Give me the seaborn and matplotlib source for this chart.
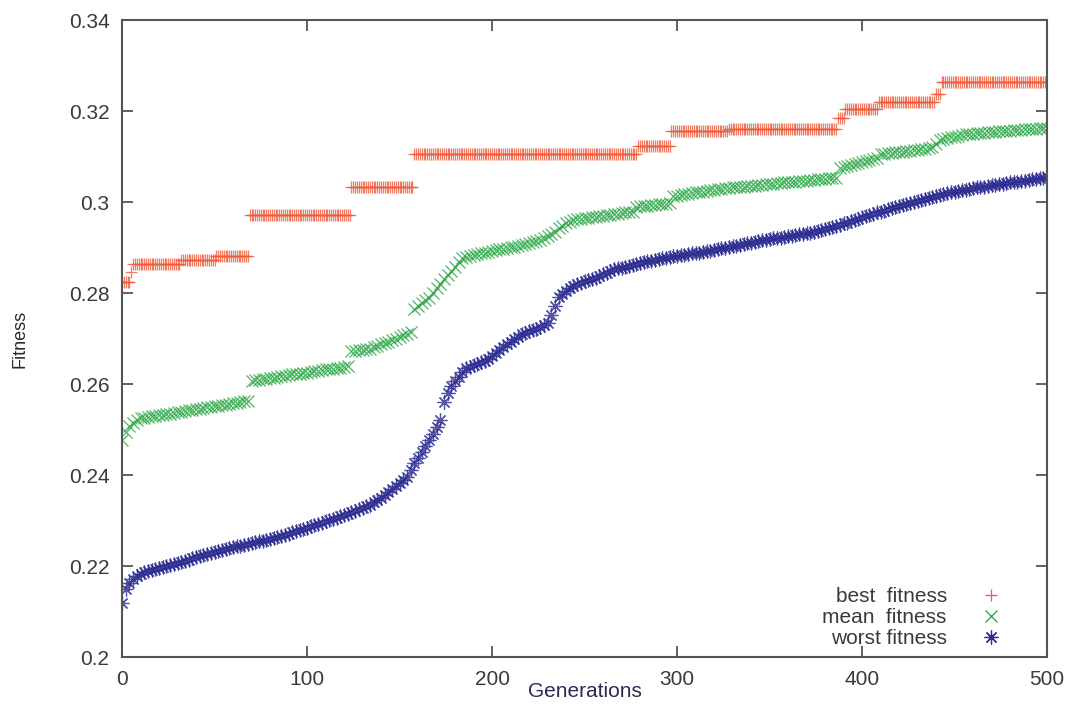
import numpy as np
import pandas as pd
import matplotlib
matplotlib.use("Agg")
import matplotlib.pyplot as plt
import seaborn as sns

# Best fitness is piecewise constant: (value, number of generations it holds)
best_levels = [0.2824, 0.2847, 0.2864, 0.2873, 0.2882, 0.2971, 0.3034, 0.3106,
               0.3123, 0.3156, 0.3160, 0.3185, 0.3204, 0.3220, 0.3237, 0.3264]
best_runs = [5, 1, 26, 19, 18, 55, 34, 121, 18, 31, 59, 4, 18, 31, 3, 58]

# Mean and worst fitness, recorded every second generation (0, 2, ..., 500)
mean_fitness = [
    0.2478, 0.2495, 0.2508, 0.2515, 0.2520, 0.2525,
    0.2526, 0.2528, 0.2529, 0.2530, 0.2532, 0.2533, 0.2534, 0.2535, 0.2537, 0.2538,
    0.2539, 0.2541, 0.2542, 0.2543, 0.2545, 0.2546, 0.2547, 0.2549, 0.2550, 0.2551,
    0.2552, 0.2554, 0.2555, 0.2556, 0.2558, 0.2559, 0.2560, 0.2562, 0.2563,
    0.2607, 0.2608, 0.2609, 0.2611, 0.2612, 0.2613, 0.2614, 0.2616, 0.2617, 0.2618,
    0.2619, 0.2621, 0.2622, 0.2623, 0.2624, 0.2625, 0.2627, 0.2628, 0.2629, 0.2630,
    0.2632, 0.2633, 0.2634, 0.2635, 0.2636, 0.2638, 0.2639,
    0.2672, 0.2673, 0.2674, 0.2675, 0.2677, 0.2678, 0.2681, 0.2684, 0.2687, 0.2690,
    0.2693, 0.2697, 0.2700, 0.2704, 0.2707, 0.2711, 0.2714,
    0.2765, 0.2771, 0.2777, 0.2784, 0.2790, 0.2800, 0.2810, 0.2820, 0.2830, 0.2840,
    0.2849, 0.2858, 0.2868, 0.2877, 0.2879, 0.2881, 0.2883, 0.2885, 0.2887, 0.2889,
    0.2890, 0.2892, 0.2894, 0.2896, 0.2897, 0.2899, 0.2901, 0.2902, 0.2904, 0.2906,
    0.2908, 0.2910, 0.2912, 0.2914, 0.2916, 0.2921, 0.2925, 0.2930, 0.2935, 0.2942,
    0.2948, 0.2955, 0.2957, 0.2960, 0.2962, 0.2963, 0.2964, 0.2965, 0.2966, 0.2968,
    0.2969, 0.2970, 0.2971, 0.2972, 0.2973, 0.2974, 0.2975, 0.2977, 0.2978, 0.2979,
    0.2990, 0.2991, 0.2992, 0.2992, 0.2993, 0.2994, 0.2995, 0.2995, 0.2996, 0.2997,
    0.3013, 0.3014, 0.3016, 0.3017, 0.3018, 0.3019, 0.3021, 0.3022, 0.3023, 0.3024,
    0.3026, 0.3027, 0.3028, 0.3029, 0.3030, 0.3031, 0.3032, 0.3033, 0.3033, 0.3034,
    0.3035, 0.3036, 0.3036, 0.3037, 0.3038, 0.3039, 0.3040, 0.3040, 0.3041, 0.3042,
    0.3043, 0.3043, 0.3044, 0.3045, 0.3046, 0.3047, 0.3047, 0.3048, 0.3049, 0.3050,
    0.3050, 0.3051, 0.3052, 0.3052, 0.3053,
    0.3075, 0.3077, 0.3079, 0.3081, 0.3084, 0.3086, 0.3088, 0.3090, 0.3092, 0.3095,
    0.3097,
    0.3105, 0.3106, 0.3107, 0.3108, 0.3109, 0.3110, 0.3111, 0.3112, 0.3113, 0.3114,
    0.3115, 0.3116, 0.3117, 0.3118, 0.3120,
    0.3127, 0.3136, 0.3139, 0.3141, 0.3142, 0.3144, 0.3146, 0.3147, 0.3149, 0.3150,
    0.3150, 0.3151, 0.3152, 0.3152, 0.3153, 0.3154, 0.3154, 0.3155, 0.3156, 0.3156,
    0.3157, 0.3158, 0.3158, 0.3159, 0.3160, 0.3160, 0.3161, 0.3161, 0.3162, 0.3162,
    0.3163,
]

worst_fitness = [
    0.2119, 0.2150, 0.2163, 0.2171, 0.2177, 0.2182, 0.2186, 0.2189, 0.2191, 0.2194,
    0.2196, 0.2198, 0.2200, 0.2202, 0.2205, 0.2207, 0.2209, 0.2212, 0.2214, 0.2217,
    0.2219, 0.2222, 0.2224, 0.2226, 0.2229, 0.2231, 0.2233, 0.2235, 0.2237, 0.2239,
    0.2241, 0.2243, 0.2245, 0.2247, 0.2249, 0.2251, 0.2253, 0.2255, 0.2256, 0.2258,
    0.2260, 0.2262, 0.2264, 0.2266, 0.2269, 0.2271, 0.2274, 0.2276, 0.2279, 0.2282,
    0.2284, 0.2287, 0.2290, 0.2293, 0.2295, 0.2298, 0.2301, 0.2304, 0.2306, 0.2309,
    0.2312, 0.2315, 0.2318, 0.2322, 0.2325, 0.2328, 0.2332, 0.2335, 0.2340, 0.2345,
    0.2350, 0.2357, 0.2363, 0.2370, 0.2376, 0.2383, 0.2389, 0.2395, 0.2412, 0.2426,
    0.2438, 0.2450, 0.2463, 0.2477, 0.2491, 0.2505, 0.2521, 0.2560, 0.2580, 0.2595,
    0.2607, 0.2616, 0.2626, 0.2635, 0.2638, 0.2641, 0.2644, 0.2648, 0.2651, 0.2656,
    0.2661, 0.2668, 0.2674, 0.2681, 0.2687, 0.2692, 0.2698, 0.2703, 0.2709, 0.2713,
    0.2716, 0.2719, 0.2722, 0.2725, 0.2730, 0.2735, 0.2752, 0.2772, 0.2791, 0.2798,
    0.2804, 0.2811, 0.2816, 0.2820, 0.2823, 0.2826, 0.2828, 0.2831, 0.2833, 0.2837,
    0.2841, 0.2845, 0.2849, 0.2852, 0.2854, 0.2856, 0.2858, 0.2860, 0.2862, 0.2864,
    0.2866, 0.2868, 0.2870, 0.2871, 0.2873, 0.2875, 0.2877, 0.2878, 0.2879, 0.2881,
    0.2882, 0.2883, 0.2884, 0.2885, 0.2887, 0.2888, 0.2889, 0.2890, 0.2892, 0.2893,
    0.2895, 0.2896, 0.2898, 0.2900, 0.2901, 0.2903, 0.2904, 0.2906, 0.2908, 0.2909,
    0.2911, 0.2913, 0.2914, 0.2916, 0.2917, 0.2918, 0.2920, 0.2921, 0.2922, 0.2923,
    0.2925, 0.2926, 0.2927, 0.2929, 0.2930, 0.2931, 0.2933, 0.2935, 0.2937, 0.2939,
    0.2941, 0.2944, 0.2946, 0.2948, 0.2950, 0.2953, 0.2955, 0.2958, 0.2961, 0.2963,
    0.2966, 0.2969, 0.2971, 0.2974, 0.2977, 0.2979, 0.2981, 0.2984, 0.2986, 0.2988,
    0.2991, 0.2993, 0.2996, 0.2998, 0.3001, 0.3003, 0.3005, 0.3007, 0.3009, 0.3011,
    0.3014, 0.3016, 0.3018, 0.3020, 0.3021, 0.3023, 0.3024, 0.3026, 0.3027, 0.3029,
    0.3030, 0.3032, 0.3033, 0.3034, 0.3036, 0.3037, 0.3038, 0.3039, 0.3040, 0.3042,
    0.3043, 0.3044, 0.3045, 0.3046, 0.3047, 0.3048, 0.3050, 0.3051, 0.3052, 0.3053,
    0.3055,
]

x_ticks = [0, 100, 200, 300, 400, 500]
y_ticks = [0.20, 0.22, 0.24, 0.26, 0.28, 0.30, 0.32, 0.34]
y_tick_labels = ["0.2", "0.22", "0.24", "0.26", "0.28", "0.3", "0.32", "0.34"]

series_labels = ["best  fitness", "mean  fitness", "worst fitness"]
colors = ["#ef5a3a", "#22a53e", "#2b2b90"]

# Assemble tidy frames
best_values = np.repeat(best_levels, best_runs)
best_df = pd.DataFrame({"gen": np.arange(len(best_values)), "fitness": best_values})
mean_df = pd.DataFrame({"gen": np.arange(0, 2 * len(mean_fitness), 2), "fitness": mean_fitness})
worst_df = pd.DataFrame({"gen": np.arange(0, 2 * len(worst_fitness), 2), "fitness": worst_fitness})

sns.set_style("white")
plt.rcParams["font.family"] = ["Liberation Sans", "DejaVu Sans"]

fig = plt.figure(figsize=(10.75, 7.10), dpi=100)
ax = fig.add_axes([0.1135, 0.0746, 0.8605, 0.8972])

marker_styles = [
    dict(marker="+", markersize=8.5, markeredgewidth=0.9),
    dict(marker="x", markersize=9.0, markeredgewidth=0.9),
    dict(marker=(8, 2, 0), markersize=10.0, markeredgewidth=0.9),
]

for df, lab, col, ms in zip([best_df, mean_df, worst_df], series_labels, colors, marker_styles):
    sns.lineplot(data=df, x="gen", y="fitness", ax=ax, color=col, linestyle="",
                 markeredgecolor=col, label=lab, estimator=None, alpha=0.8, **ms)

ax.set_xlim(0, 500)
ax.set_ylim(0.2, 0.34)
ax.set_xticks(x_ticks)
ax.set_yticks(y_ticks)
ax.set_yticklabels(y_tick_labels)

for side in ["left", "right", "top", "bottom"]:
    ax.spines[side].set_color("#555555")
    ax.spines[side].set_linewidth(1.5)
ax.tick_params(axis="both", direction="in", length=8, width=1.3, color="#555555",
               labelsize=15, labelcolor="#3a3a3a", top=True, right=True,
               bottom=True, left=True, pad=9)

ax.set_xlabel("Generations", fontsize=15, color="#2a2a55", labelpad=-5)
ax.set_ylabel("Fitness", fontsize=13, color="#2a2a2a", labelpad=29)

leg = ax.legend(loc="lower right", bbox_to_anchor=(0.9705, -0.0157), frameon=False,
                markerfirst=False, fontsize=15, handlelength=1.0, handletextpad=1.6,
                borderaxespad=0.5, labelspacing=0.1)
for t in leg.get_texts():
    t.set_ha("right")
    t.set_color("#3a3a3a")
leg._legend_box.align = "right"
for h in leg.legend_handles:
    h.set_alpha(1.0)

fig.savefig("out.png", dpi=100)
